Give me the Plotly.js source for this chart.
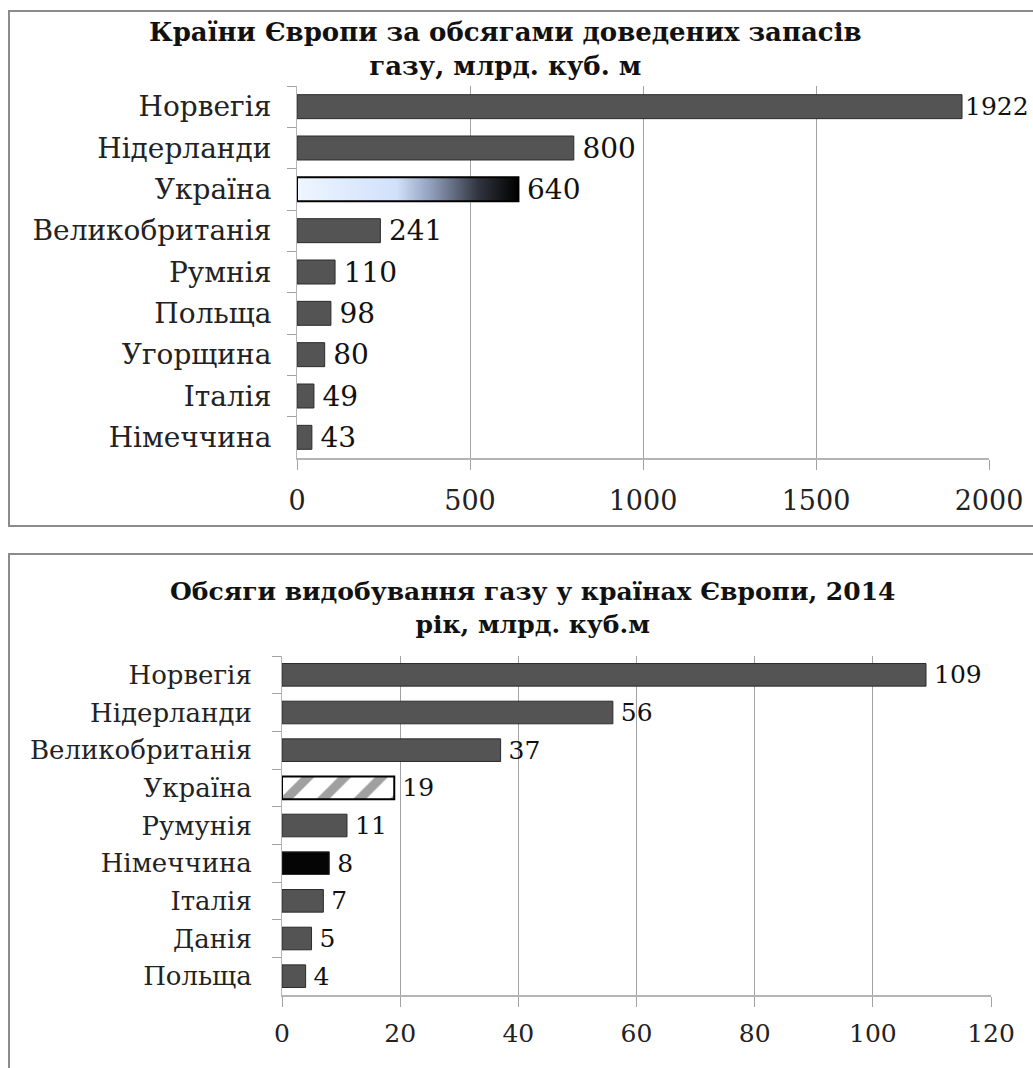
<!DOCTYPE html>
<html>
<head>
<meta charset="utf-8">
<script src="https://cdn.plot.ly/plotly-3.0.1.min.js"></script>
<style>html,body{margin:0;padding:0;background:#fff;}#chart{width:1033px;height:1068px;}</style>
</head>
<body>
<div id="chart"></div>
<script>
// ---- Data ----
const title1 = 'Країни Європи за обсягами доведених запасів<br>газу, млрд. куб. м';
const reserveCountries = ['Норвегія', 'Нідерланди', 'Україна', 'Великобританія', 'Румнія', 'Польща', 'Угорщина', 'Італія', 'Німеччина'];
const reserveValues = [1922, 800, 640, 241, 110, 98, 80, 49, 43];
const reserveTicks = [0, 500, 1000, 1500, 2000];

const title2 = 'Обсяги видобування газу у країнах Європи, 2014<br>рік, млрд. куб.м';
const prodCountries = ['Норвегія', 'Нідерланди', 'Великобританія', 'Україна', 'Румунія', 'Німеччина', 'Італія', 'Данія', 'Польща'];
const prodValues = [109, 56, 37, 19, 11, 8, 7, 5, 4];
const prodTicks = [0, 20, 40, 60, 80, 100, 120];

// ---- Styles ----
const W = 1033, H = 1068;
const px = v => v / W;
const py = v => 1 - v / H;
const FONT = 'DejaVu Serif';
const BAR = '#545454', BAR_LINE = '#2b2b2b', GRID = '#a3a3a3';
const HIGHLIGHT = 'Україна';
const BW1 = 0.58, BW2 = 0.6;
const GAP = '\u2009';
const xMax1 = 2000;

const hiIdx1 = reserveCountries.indexOf(HIGHLIGHT);
const hiVal1 = reserveValues[hiIdx1];

// labels near the right edge get no extra gap and a slightly smaller font so they stay inside the picture
const nearEdge = v => v > 0.9 * xMax1;

const trace1 = {
  type: 'bar', orientation: 'h',
  x: reserveValues, y: reserveCountries,
  xaxis: 'x', yaxis: 'y', width: BW1,
  marker: {
    color: reserveCountries.map(c => c === HIGHLIGHT ? 'rgba(0,0,0,0)' : BAR),
    line: {color: reserveCountries.map(c => c === HIGHLIGHT ? 'rgba(0,0,0,0)' : BAR_LINE), width: 1}
  },
  text: reserveValues.map(v => (nearEdge(v) ? '' : GAP) + v), textposition: 'outside', cliponaxis: false, constraintext: 'none',
  textfont: {family: FONT, size: reserveValues.map(v => nearEdge(v) ? 25 : 28), color: '#111'},
  hoverinfo: 'x+y'
};

// gradient fill for the highlighted bar (drawn on an overlay axis matching the category axis)
const traceGrad = {
  type: 'scatter', mode: 'lines',
  x: [0, hiVal1, hiVal1, 0, 0],
  y: [hiIdx1 - BW1 / 2, hiIdx1 - BW1 / 2, hiIdx1 + BW1 / 2, hiIdx1 + BW1 / 2, hiIdx1 - BW1 / 2],
  xaxis: 'x', yaxis: 'y3',
  fill: 'toself',
  fillgradient: {type: 'horizontal', start: 0, stop: hiVal1,
    colorscale: [[0, '#eef6ff'], [0.45, '#d0e1fb'], [0.62, '#8a98b4'], [0.82, '#30343d'], [1, '#000000']]},
  line: {color: '#000', width: 2},
  hoverinfo: 'skip', showlegend: false
};

const trace2 = {
  type: 'bar', orientation: 'h',
  x: prodValues, y: prodCountries,
  xaxis: 'x2', yaxis: 'y2', width: BW2,
  marker: {
    color: prodCountries.map(c => c === 'Німеччина' ? '#050505' : (c === HIGHLIGHT ? '#a0a0a0' : BAR)),
    line: {color: prodCountries.map(c => c === HIGHLIGHT ? '#000' : BAR_LINE), width: prodCountries.map(c => c === HIGHLIGHT ? 2 : 1)},
    pattern: {shape: prodCountries.map(c => c === HIGHLIGHT ? '/' : ''), fgcolor: '#f2f2f2', bgcolor: '#929292', size: 26, solidity: 0.35}
  },
  text: prodValues.map(v => GAP + v), textposition: 'outside', cliponaxis: false, constraintext: 'none',
  textfont: {family: FONT, size: 25, color: '#111'},
  hoverinfo: 'x+y'
};

const xCommon = {
  showgrid: true, gridcolor: GRID, gridwidth: 1,
  zeroline: false, showline: true, linecolor: '#b4b4b4', linewidth: 2,
  ticks: 'outside', ticklen: 10, tickcolor: GRID,
  tickfont: {family: FONT, size: 27, color: '#222'},
  ticklabelstandoff: 8, fixedrange: true
};
const yCommon = {
  type: 'category', autorange: 'reversed', tickson: 'boundaries',
  showgrid: false, showline: true, linecolor: '#b4b4b4', linewidth: 1,
  ticks: 'outside', ticklen: 9, tickcolor: GRID,
  fixedrange: true
};

const layout = {
  width: W, height: H,
  margin: {l: 0, r: 0, t: 0, b: 0},
  paper_bgcolor: '#fff', plot_bgcolor: '#fff',
  showlegend: false,
  xaxis: Object.assign({}, xCommon, {domain: [px(297), px(989)], range: [0, xMax1], tickvals: reserveTicks, anchor: 'y'}),
  yaxis: Object.assign({}, yCommon, {domain: [py(458), py(86)], anchor: 'x', ticklabelstandoff: 19,
    tickfont: {family: FONT, size: 28, color: '#222'}}),
  yaxis3: {overlaying: 'y', range: [reserveCountries.length - 0.5, -0.5], visible: false, fixedrange: true, anchor: 'x'},
  xaxis2: Object.assign({}, xCommon, {domain: [px(282), px(991)], range: [0, 120], tickvals: prodTicks, anchor: 'y2',
    ticklabelstandoff: 5, tickfont: {family: FONT, size: 25, color: '#222'}}),
  yaxis2: Object.assign({}, yCommon, {domain: [py(995), py(656)], anchor: 'x2', ticklabelstandoff: 24,
    tickfont: {family: FONT, size: 26, color: '#222'}}),
  annotations: [
    {text: '<b>' + title1 + '</b>', xref: 'paper', yref: 'paper', x: px(505), y: py(49), xanchor: 'center', yanchor: 'middle',
     showarrow: false, font: {family: FONT, size: 26, color: '#111'}},
    {text: '<b>' + title2 + '</b>', xref: 'paper', yref: 'paper', x: px(532), y: py(608), xanchor: 'center', yanchor: 'middle',
     showarrow: false, font: {family: FONT, size: 25, color: '#111'}}
  ],
  shapes: [
    {type: 'rect', xref: 'paper', yref: 'paper', x0: px(9), x1: px(1045), y0: py(526), y1: py(11), line: {color: '#8c8c8c', width: 2}, layer: 'below'},
    {type: 'rect', xref: 'paper', yref: 'paper', x0: px(9), x1: px(1045), y0: py(1080), y1: py(554), line: {color: '#8c8c8c', width: 2}, layer: 'below'}
  ]
};

Plotly.newPlot('chart', [trace1, traceGrad, trace2], layout, {displayModeBar: false, staticPlot: true});
</script>
</body>
</html>
